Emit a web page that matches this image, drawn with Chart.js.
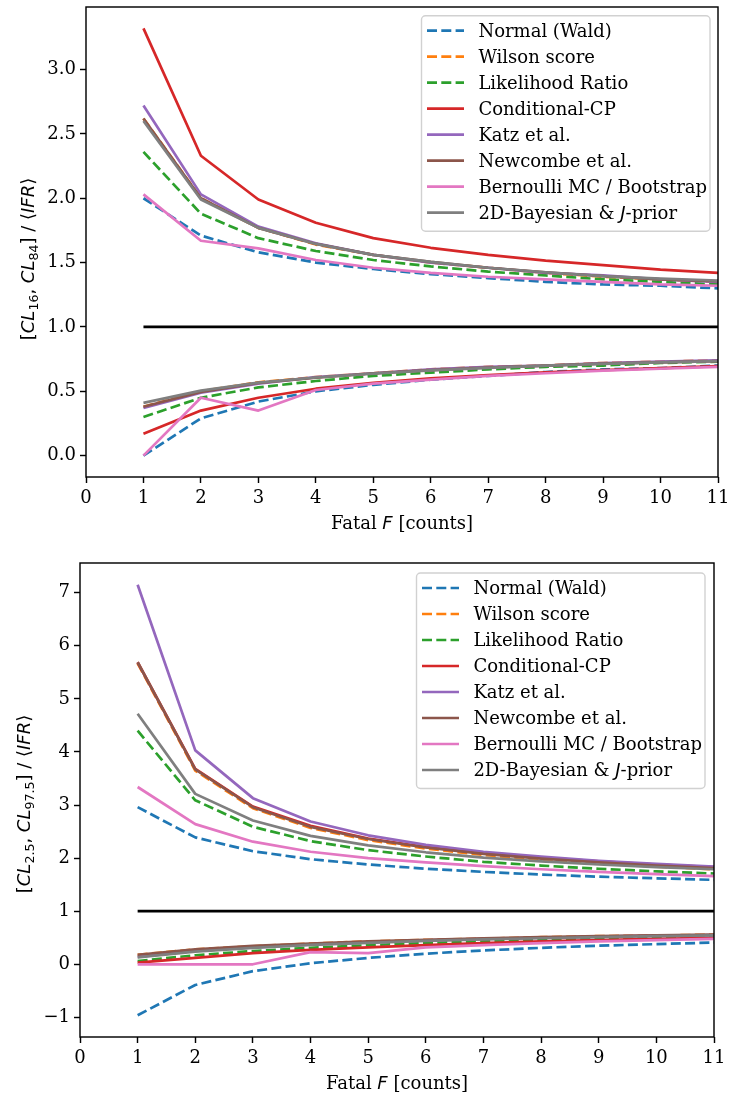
<!DOCTYPE html>
<html>
<head>
<meta charset="utf-8">
<script src="https://cdn.jsdelivr.net/npm/chart.js@4.4.1/dist/chart.umd.min.js"></script>
<style>
  html, body { margin: 0; padding: 0; background: #fff; }
  canvas { display: block; }
</style>
</head>
<body>
<canvas id="cl68" width="730" height="540"></canvas>
<canvas id="cl95" width="730" height="555"></canvas>
<script>
"use strict";

var fatal = [1, 2, 3, 4, 5, 6, 7, 8, 9, 10, 11];
var unity = [1, 1, 1, 1, 1, 1, 1, 1, 1, 1, 1];
var fatalTicks = [0, 1, 2, 3, 4, 5, 6, 7, 8, 9, 10, 11];
var ticks68 = [0.0, 0.5, 1.0, 1.5, 2.0, 2.5, 3.0];
var ticks95 = [-1, 0, 1, 2, 3, 4, 5, 6, 7];

// [CL16, CL84] / <IFR>
var waldHi68   = [2.00, 1.71, 1.58, 1.50, 1.45, 1.41, 1.38, 1.35, 1.33, 1.32, 1.30];
var waldLo68   = [0.00, 0.29, 0.42, 0.50, 0.55, 0.59, 0.62, 0.65, 0.67, 0.68, 0.70];
var wilsonHi68 = [2.62, 2.00, 1.77, 1.64, 1.56, 1.50, 1.46, 1.42, 1.39, 1.37, 1.35];
var wilsonLo68 = [0.38, 0.50, 0.57, 0.61, 0.64, 0.67, 0.69, 0.70, 0.72, 0.73, 0.74];
var lrHi68     = [2.36, 1.88, 1.69, 1.59, 1.52, 1.47, 1.43, 1.40, 1.37, 1.35, 1.33];
var lrLo68     = [0.30, 0.45, 0.53, 0.58, 0.62, 0.645, 0.67, 0.69, 0.70, 0.72, 0.73];
var cpHi68     = [3.32, 2.33, 1.99, 1.81, 1.69, 1.615, 1.56, 1.515, 1.48, 1.445, 1.42];
var cpLo68     = [0.17, 0.35, 0.45, 0.52, 0.565, 0.60, 0.625, 0.648, 0.665, 0.68, 0.695];
var katzHi68   = [2.72, 2.03, 1.78, 1.65, 1.56, 1.50, 1.46, 1.42, 1.40, 1.37, 1.35];
var katzLo68   = [0.37, 0.49, 0.56, 0.61, 0.64, 0.67, 0.69, 0.70, 0.72, 0.73, 0.74];
var newcHi68   = [2.62, 2.00, 1.77, 1.645, 1.56, 1.505, 1.46, 1.425, 1.395, 1.37, 1.355];
var newcLo68   = [0.38, 0.495, 0.565, 0.605, 0.64, 0.665, 0.685, 0.70, 0.715, 0.725, 0.735];
var bootHi68   = [2.03, 1.67, 1.61, 1.52, 1.46, 1.42, 1.39, 1.37, 1.35, 1.33, 1.32];
var bootLo68   = [0.00, 0.45, 0.35, 0.51, 0.56, 0.59, 0.62, 0.64, 0.66, 0.675, 0.69];
var bayesHi68  = [2.60, 1.99, 1.77, 1.645, 1.56, 1.505, 1.46, 1.425, 1.395, 1.375, 1.36];
var bayesLo68  = [0.41, 0.505, 0.567, 0.607, 0.637, 0.662, 0.682, 0.699, 0.713, 0.725, 0.735];

// [CL2.5, CL97.5] / <IFR>
var waldHi95   = [2.96, 2.39, 2.13, 1.98, 1.88, 1.80, 1.74, 1.69, 1.65, 1.62, 1.59];
var waldLo95   = [-0.96, -0.39, -0.13, 0.02, 0.12, 0.20, 0.26, 0.31, 0.35, 0.38, 0.41];
var wilsonHi95 = [5.67, 3.65, 2.94, 2.57, 2.34, 2.18, 2.06, 1.97, 1.90, 1.84, 1.79];
var wilsonLo95 = [0.18, 0.28, 0.34, 0.39, 0.43, 0.46, 0.48, 0.51, 0.53, 0.54, 0.56];
var lrHi95     = [4.40, 3.09, 2.59, 2.32, 2.15, 2.03, 1.93, 1.86, 1.80, 1.75, 1.71];
var lrLo95     = [0.06, 0.17, 0.25, 0.31, 0.36, 0.40, 0.43, 0.46, 0.48, 0.50, 0.52];
var cpHi95     = [5.69, 3.68, 2.97, 2.61, 2.37, 2.21, 2.10, 2.01, 1.94, 1.88, 1.83];
var cpLo95     = [0.03, 0.12, 0.21, 0.27, 0.32, 0.36, 0.40, 0.43, 0.455, 0.48, 0.50];
var katzHi95   = [7.15, 4.03, 3.13, 2.69, 2.43, 2.25, 2.12, 2.03, 1.95, 1.89, 1.84];
var katzLo95   = [0.14, 0.25, 0.32, 0.37, 0.41, 0.45, 0.48, 0.50, 0.52, 0.54, 0.55];
var newcHi95   = [5.69, 3.67, 2.96, 2.59, 2.36, 2.20, 2.08, 1.99, 1.92, 1.86, 1.81];
var newcLo95   = [0.18, 0.28, 0.345, 0.39, 0.43, 0.46, 0.49, 0.51, 0.53, 0.545, 0.56];
var bootHi95   = [3.34, 2.64, 2.31, 2.12, 2.00, 1.92, 1.85, 1.79, 1.74, 1.70, 1.66];
var bootLo95   = [0.00, 0.00, 0.00, 0.23, 0.21, 0.32, 0.36, 0.40, 0.43, 0.455, 0.48];
var bayesHi95  = [4.72, 3.21, 2.71, 2.42, 2.24, 2.11, 2.01, 1.94, 1.88, 1.83, 1.79];
var bayesLo95  = [0.13, 0.24, 0.31, 0.365, 0.405, 0.44, 0.47, 0.49, 0.51, 0.53, 0.545];

var SERIF = "'DejaVu Serif', serif";
var SANS = "'DejaVu Sans', sans-serif";
var FS = 18;
var LW = 2.7;
var DASH = [10, 4.3];

var fonts = {
  serif: FS + "px " + SERIF,
  sans: FS + "px " + SANS,
  italic: "italic " + FS + "px " + SANS,
  sub: "12.6px " + SANS
};

var methods = [
  { label: "Normal (Wald)", color: "#1f77b4", dash: true },
  { label: "Wilson score", color: "#ff7f0e", dash: true },
  { label: "Likelihood Ratio", color: "#2ca02c", dash: true },
  { label: "Conditional-CP", color: "#d62728" },
  { label: "Katz et al.", color: "#9467bd" },
  { label: "Newcombe et al.", color: "#8c564b" },
  { label: "Bernoulli MC / Bootstrap", color: "#e377c2" },
  { label: "2D-Bayesian & J-prior", color: "#7f7f7f",
    runs: [["2D-Bayesian & ", "serif"], ["J", "italic"], ["-prior", "serif"]] }
];

var hi68 = [waldHi68, wilsonHi68, lrHi68, cpHi68, katzHi68, newcHi68, bootHi68, bayesHi68];
var lo68 = [waldLo68, wilsonLo68, lrLo68, cpLo68, katzLo68, newcLo68, bootLo68, bayesLo68];
var hi95 = [waldHi95, wilsonHi95, lrHi95, cpHi95, katzHi95, newcHi95, bootHi95, bayesHi95];
var lo95 = [waldLo95, wilsonLo95, lrLo95, cpLo95, katzLo95, newcLo95, bootLo95, bayesLo95];

function points(vals) {
  return fatal.map(function (f, k) { return { x: f, y: vals[k] }; });
}

// later methods end up on top, like the plotting order
function buildDatasets(hi, lo) {
  var sets = [];
  methods.forEach(function (m, i) {
    [hi[i], lo[i]].forEach(function (vals) {
      sets.push({
        data: points(vals),
        borderColor: m.color,
        borderWidth: LW,
        borderDash: m.dash ? DASH : [],
        borderJoinStyle: "round",
        borderCapStyle: "butt",
        pointRadius: 0,
        tension: 0,
        fill: false,
        order: -sets.length
      });
    });
  });
  sets.push({
    data: points(unity), borderColor: "#000", borderWidth: LW,
    pointRadius: 0, tension: 0, fill: false, order: -sets.length
  });
  return sets;
}

function runsWidth(ctx, runs) {
  var w = 0;
  runs.forEach(function (r) { ctx.font = fonts[r[1]]; w += ctx.measureText(r[0]).width; });
  return w;
}

function drawRuns(ctx, runs, x, y) {
  var cx = x;
  runs.forEach(function (r) {
    ctx.font = fonts[r[1]];
    ctx.fillText(r[0], cx, y + (r[2] || 0));
    cx += ctx.measureText(r[0]).width;
  });
}

function legendRuns(m) {
  return m.runs || [[m.label, "serif"]];
}

function drawLegend(ctx, a, inset) {
  var rowH = 26, pad = 5.5, handle = 37, gap = 14.4;
  var w = 288.5;
  var h = rowH * methods.length + 7.5;
  var x0 = a.right - inset.right - w;
  var y0 = a.top + inset.top;

  ctx.beginPath();
  ctx.roundRect(x0, y0, w, h, 4);
  ctx.fillStyle = "rgba(255,255,255,0.8)";
  ctx.fill();
  ctx.strokeStyle = "rgba(204,204,204,0.9)";
  ctx.lineWidth = 1.4;
  ctx.stroke();

  methods.forEach(function (m, i) {
    var cy = y0 + 15 + i * rowH;
    ctx.beginPath();
    ctx.setLineDash(m.dash ? DASH : []);
    ctx.lineCap = "butt";
    ctx.strokeStyle = m.color;
    ctx.lineWidth = LW;
    ctx.moveTo(x0 + pad, cy);
    ctx.lineTo(x0 + pad + handle, cy);
    ctx.stroke();
    ctx.setLineDash([]);
    ctx.fillStyle = "#000";
    ctx.textAlign = "left";
    ctx.textBaseline = "alphabetic";
    drawRuns(ctx, legendRuns(m), x0 + pad + handle + gap, cy + 6.3);
  });
}

function panelPlugin(p) {
  return {
    id: "panel",
    afterDatasetsDraw: function (chart) {
      var ctx = chart.ctx, a = chart.chartArea;
      ctx.save();
      ctx.strokeStyle = "#000";
      ctx.lineWidth = 1.44;
      ctx.strokeRect(a.left, a.top, a.right - a.left, a.bottom - a.top);
      drawLegend(ctx, a, p.legendInset);
      ctx.restore();
    },
    afterDraw: function (chart) {
      var ctx = chart.ctx, a = chart.chartArea;
      ctx.save();
      ctx.fillStyle = "#000";
      ctx.textAlign = "left";
      ctx.textBaseline = "alphabetic";
      var xr = [["Fatal ", "serif"], ["F", "italic"], [" [counts]", "serif"]];
      drawRuns(ctx, xr, (a.left + a.right) / 2 - runsWidth(ctx, xr) / 2, a.bottom + p.xTitleDrop);
      ctx.translate(p.yTitleX, p.yTitleY);
      ctx.rotate(-Math.PI / 2);
      drawRuns(ctx, p.yRuns, -runsWidth(ctx, p.yRuns) / 2, 0);
      ctx.restore();
    }
  };
}

function makePanel(id, hi, lo, yTicks, yFmt, yMin, yMax, p) {
  var tickFont = { family: SERIF, size: FS };
  new Chart(document.getElementById(id), {
    type: "line",
    data: { datasets: buildDatasets(hi, lo) },
    options: {
      responsive: false,
      animation: false,
      devicePixelRatio: 1,
      layout: { padding: { top: p.top, right: p.right, left: 0, bottom: 0 } },
      plugins: { legend: { display: false }, tooltip: { enabled: false } },
      scales: {
        x: {
          type: "linear", min: 0, max: 11,
          afterBuildTicks: function (s) { s.ticks = fatalTicks.map(function (v) { return { value: v }; }); },
          afterFit: function (s) { s.height = p.xAxisH; s.paddingLeft = 0; s.paddingRight = 0; },
          grid: { display: true, drawOnChartArea: false, drawTicks: true, tickLength: 6, tickWidth: 1.44, tickColor: "#000" },
          border: { display: false },
          ticks: { font: tickFont, color: "#000", padding: 5, maxRotation: 0, autoSkip: false,
                   callback: function (v) { return String(v); } }
        },
        y: {
          type: "linear", min: yMin, max: yMax,
          afterBuildTicks: function (s) { s.ticks = yTicks.map(function (v) { return { value: v }; }); },
          afterFit: function (s) { s.width = p.yAxisW; s.paddingTop = 0; s.paddingBottom = 0; },
          grid: { display: true, drawOnChartArea: false, drawTicks: true, tickLength: 6, tickWidth: 1.44, tickColor: "#000" },
          border: { display: false },
          ticks: { font: tickFont, color: "#000", padding: 4, autoSkip: false, callback: yFmt }
        }
      }
    },
    plugins: [panelPlugin(p)]
  });
}

makePanel("cl68", hi68, lo68, ticks68,
  function (v) { return v.toFixed(1); }, -0.166, 3.486,
  { top: 7, right: 12, yAxisW: 86, xAxisH: 63,
    legendInset: { top: 8.7, right: 8 },
    xTitleDrop: 52, yTitleX: 34, yTitleY: 259,
    yRuns: [["[", "sans"], ["CL", "italic"], ["16", "sub", 3.5], [", ", "sans"], ["CL", "italic"], ["84", "sub", 3.5],
            ["] / ", "sans"], ["\u27e8", "sans"], ["IFR", "italic"], ["\u27e9", "sans"]] });

makePanel("cl95", hi95, lo95, ticks95,
  function (v) { return v < 0 ? "\u2212" + Math.abs(v) : String(v); }, -1.37, 7.56,
  { top: 23, right: 16, yAxisW: 80, xAxisH: 58,
    legendInset: { top: 10, right: 9 },
    xTitleDrop: 52, yTitleX: 30, yTitleY: 264,
    yRuns: [["[", "sans"], ["CL", "italic"], ["2.5", "sub", 3.5], [", ", "sans"], ["CL", "italic"], ["97.5", "sub", 3.5],
            ["] / ", "sans"], ["\u27e8", "sans"], ["IFR", "italic"], ["\u27e9", "sans"]] });
</script>
</body>
</html>
